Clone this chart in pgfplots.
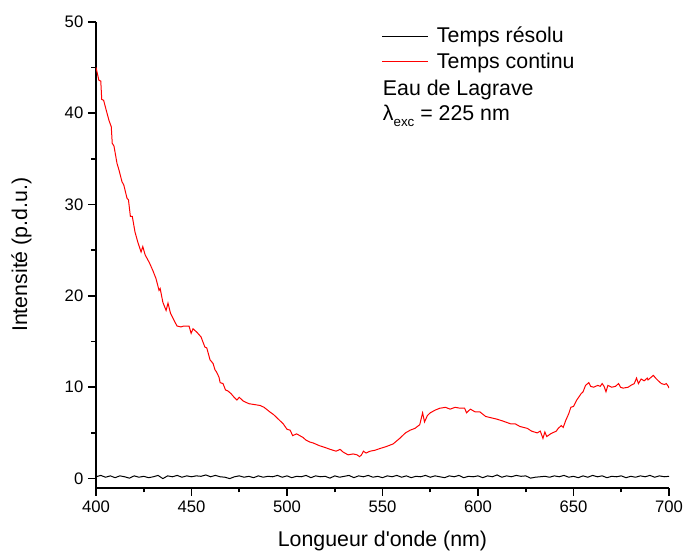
\documentclass[border=0pt]{standalone}
\usepackage{fontspec}
\setmainfont{Liberation Sans}
\usepackage{pgfplots}
\pgfplotsset{compat=1.18}

\begin{document}
\begin{tikzpicture}
\begin{axis}[
  at={(0,0)}, anchor=south west,
  scale only axis, width=429.75pt, height=349.5pt,
  xmin=400, xmax=700, ymin=-1, ymax=50,
  axis x line*=bottom, axis y line*=left,
  axis line style={line width=1.2pt, -},
  xtick={400,450,...,700}, minor xtick={425,475,...,675},
  ytick={0,10,...,50}, minor ytick={5,15,...,45},
  tick align=outside,
  major tick length=6pt, minor tick length=3.4pt,
  every tick/.style={line width=1.2pt, black},
  ticklabel style={font=\fontsize{12.5}{14}\selectfont},
  /pgf/number format/assume math mode=true,
  xlabel={Longueur d\textquotesingle onde (nm)},
  ylabel={Intensité (p.d.u.)},
  label style={font=\fontsize{16}{19}\selectfont},
  xlabel style={at={(axis description cs:0.5,-0.1266)}, anchor=base},
  ylabel style={at={(axis description cs:-0.1204,0.5)}, anchor=base},
  legend style={draw=none, fill=none, at={(rel axis cs:0.4986,0.9944)}, anchor=north west,
    inner sep=0pt, row sep=2.2pt, column sep=4pt, font=\fontsize{16}{19}\selectfont},
  legend cell align=left,
  legend image code/.code={\draw[#1] (0pt,0pt) -- (34.5pt,0pt);},
]
\addplot[black, line width=0.75pt] coordinates {
(400,0.2)(402.5,0.35)(405,0.15)(407.5,0.3)(410,0.1)(412.5,0.3)(415,0.2)(417.5,0.05)(420,0.3)(422.5,0.15)
(425,0.25)(427.5,0.1)(430,0.2)(432.5,0.35)(435,0.0)(437.5,0.3)(440,0.2)(442.5,0.35)(445,0.15)(447.5,0.3)
(450,0.2)(452.5,0.3)(455,0.25)(457.5,0.4)(460,0.2)(462.5,0.35)(465,0.2)(467.5,0.15)(470,0.0)(472.5,0.2)
(475,0.3)(477.5,0.15)(480,0.25)(482.5,0.1)(485,0.3)(487.5,0.15)(490,0.25)(492.5,0.2)(495,0.35)(497.5,0.15)
(500,0.3)(502.5,0.1)(505,0.25)(507.5,0.2)(510,0.35)(512.5,0.1)(515,0.3)(517.5,0.2)(520,0.25)(522.5,0.05)
(525,0.3)(527.5,0.15)(530,0.25)(532.5,0.35)(535,0.1)(537.5,0.3)(540,0.2)(542.5,0.35)(545,0.15)(547.5,0.25)
(550,0.1)(552.5,0.3)(555,0.2)(557.5,0.35)(560,0.15)(562.5,0.3)(565,0.1)(567.5,0.25)(570,0.2)(572.5,0.35)
(575,0.15)(577.5,0.3)(580,0.2)(582.5,0.1)(585,0.3)(587.5,0.2)(590,0.35)(592.5,0.1)(595,0.25)(597.5,0.2)
(600,0.3)(602.5,0.1)(605,0.3)(607.5,0.2)(610,0.4)(612.5,0.15)(615,0.3)(617.5,0.2)(620,0.35)(622.5,0.25)
(625,0.3)(627.5,0.05)(630,0.15)(632.5,0.2)(635,0.25)(637.5,0.15)(640,0.3)(642.5,0.2)(645,0.35)(647.5,0.15)
(650,0.25)(652.5,0.1)(655,0.3)(657.5,0.15)(660,0.35)(662.5,0.2)(665,0.3)(667.5,0.1)(670,0.25)(672.5,0.2)
(675,0.3)(677.5,0.1)(680,0.25)(682.5,0.15)(685,0.3)(687.5,0.2)(690,0.35)(692.5,0.15)(695,0.3)(697.5,0.2)
(700,0.25)
};
\addlegendentry{Temps résolu}
\addplot[red, line width=0.75pt] coordinates {
(400,45.0)(401.5,43.6)(402.5,43.5)(403,41.5)(404,41.4)(405.5,40.2)(406.8,39.2)(408,38.5)(408.5,36.7)(409.4,36.4)
(411,34.5)(412,33.8)(413.6,32.5)(414.6,32.1)(416.2,30.7)(417,30.5)(418,28.7)(419,28.7)(420.4,27.0)(422,25.8)
(423.6,24.8)(424.5,25.4)(425.7,24.5)(428,23.6)(429.7,22.8)(431.4,21.9)(433,20.6)(433.6,20.8)(435,19.3)(436.7,18.4)
(437.7,19.2)(439,18.1)(440.9,17.3)(442.4,16.7)(444.5,16.6)(446,16.7)(448.7,16.7)(449.8,15.9)(450.8,16.4)(452.9,16.0)
(455,15.5)(457,14.4)(458,14.3)(459.7,13.0)(461.3,12.6)(462.3,11.9)(463,11.7)(464.4,11.1)(465,10.5)(466.5,10.4)
(467.8,9.7)(469,9.6)(470.7,9.3)(472.3,8.9)(473.8,8.6)(475,8.9)(477,8.5)(480,8.2)(483,8.1)(486,8.0)
(488,7.8)(491,7.3)(493,7.0)(496,6.4)(498,6.0)(500,5.4)(501.6,5.3)(503,4.7)(505,4.9)(508.4,4.5)
(510,4.2)(512,4.0)(513.7,3.9)(517,3.6)(520,3.4)(522.6,3.2)(525.7,3.0)(527.8,3.2)(529.4,2.9)(532,2.6)
(534.6,2.7)(536.7,2.6)(538,2.4)(539,2.6)(540,3.0)(541.4,2.8)(543.5,3.0)(546,3.1)(548.8,3.3)(551.9,3.5)
(555.6,3.8)(559,4.4)(562,5.0)(564.5,5.3)(567,5.5)(569.5,5.9)(571,7.2)(572,6.2)(573.5,6.9)(575,7.2)
(577.6,7.5)(580,7.7)(583,7.8)(585.4,7.6)(588,7.8)(590.7,7.7)(593,7.7)(594,7.2)(596,7.6)(598.5,7.3)
(601,7.3)(604,6.8)(606,6.7)(610,6.5)(613,6.3)(617,6.0)(619.4,6.0)(622,5.7)(625.8,5.5)(628,5.2)
(631,5.0)(632.6,5.2)(634,4.4)(635,5.1)(636,4.6)(638,4.9)(641,5.2)(642,5.5)(643.6,5.8)(644.6,5.6)
(646,6.4)(647.5,7.1)(648.6,7.8)(650,7.9)(651.7,8.6)(652.7,8.9)(654,9.3)(655,9.5)(656.3,10.2)(658,10.5)
(659,10.1)(660.5,10.0)(662.7,10.2)(664,10.1)(665,10.4)(666,10.1)(667,9.5)(668,10.2)(670,10.0)(672,10.1)
(673.6,10.4)(674.6,10.0)(676,9.9)(678.6,10.0)(680,10.2)(681.8,10.4)(683,11.0)(684,10.4)(685.4,10.9)(687,10.7)
(688.6,11.0)(689,10.8)(691.8,11.3)(693,11.0)(694.4,10.7)(696,10.4)(697.6,10.3)(698.6,10.4)(699.6,10.1)(700,9.9)
};
\addlegendentry{Temps continu}
\node[anchor=base west, font=\fontsize{16}{19}\selectfont, inner sep=0pt] at (rel axis cs:0.5003,0.841) {Eau de Lagrave};
\node[anchor=base west, font=\fontsize{16}{19}\selectfont, inner sep=0pt] at (rel axis cs:0.5003,0.789) {λ\raisebox{-0.6ex}{\fontsize{10}{10}\selectfont exc} = 225 nm};
\end{axis}
\pgfresetboundingbox
\path (-72pt,-49pt) rectangle (441pt,365.8pt);
\end{tikzpicture}
\end{document}
